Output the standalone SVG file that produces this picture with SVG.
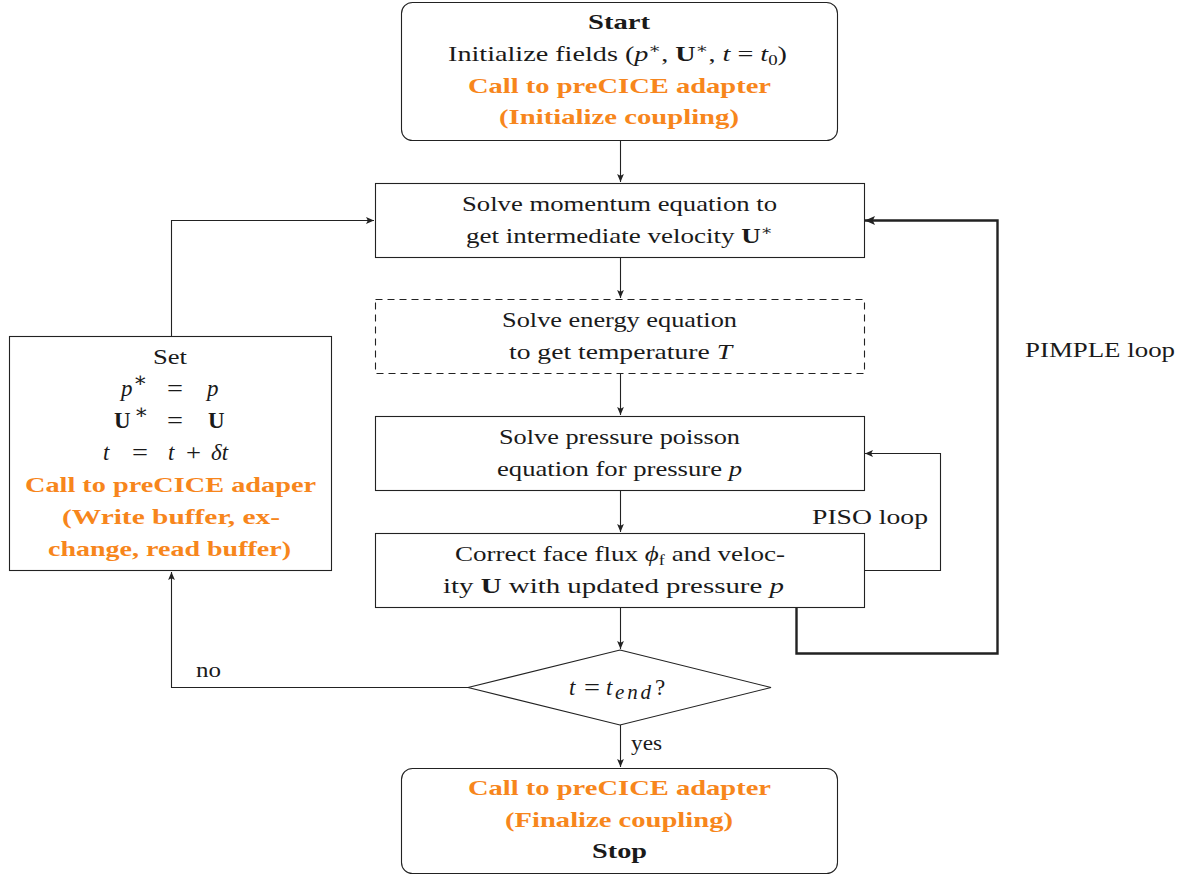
<svg xmlns="http://www.w3.org/2000/svg" width="1190" height="875" viewBox="0 0 1190 875">
<style>
text{font-family:"Liberation Serif","DejaVu Serif",serif;font-size:21px;fill:#1a1a1a}
.c{text-anchor:middle}
.o{fill:#f7861c}
.b{font-weight:bold}
.i{font-style:italic}
.m{font-size:23px}
.box{fill:#fff;stroke:#222;stroke-width:1.1}
.dash{stroke-dasharray:7,5}
.ln{fill:none;stroke:#222;stroke-width:1.1}
.thick{fill:none;stroke:#222;stroke-width:2.4}
</style>
<defs>
<marker id="ah" markerWidth="10" markerHeight="8" refX="8" refY="4" orient="auto" markerUnits="userSpaceOnUse">
<path d="M0,0.6 L8,4 L0,7.4 L1.8,4 Z" fill="#222"/>
</marker>
<marker id="ahb" markerWidth="12" markerHeight="10" refX="10" refY="5" orient="auto" markerUnits="userSpaceOnUse">
<path d="M0,0.5 L10,5 L0,9.5 L2.2,5 Z" fill="#222"/>
</marker>
</defs>

<g id="connectors">
<path class="ln" d="M620.5 141 V182" marker-end="url(#ah)"/>
<path class="ln" d="M620.5 257 V298" marker-end="url(#ah)"/>
<path class="ln" d="M620.5 373 V415" marker-end="url(#ah)"/>
<path class="ln" d="M620.5 490 V532" marker-end="url(#ah)"/>
<path class="ln" d="M620.5 607 V649" marker-end="url(#ah)"/>
<path class="ln" d="M620.5 725 V767" marker-end="url(#ah)"/>
<path class="ln" d="M468 687.5 H171.5 V572" marker-end="url(#ah)"/>
<path class="ln" d="M171.5 336 V220.5 H374" marker-end="url(#ah)"/>
<path class="ln" d="M864 570.5 H940.5 V453.5 H865" marker-end="url(#ah)"/>
<path class="thick" d="M796.5 607 V653.5 H997.5 V220.5 H865" marker-end="url(#ahb)"/>
<text x="208.5" y="677" class="c" textLength="25" lengthAdjust="spacingAndGlyphs">no</text>
<text x="646.5" y="750" class="c" textLength="31" lengthAdjust="spacingAndGlyphs">yes</text>
<text x="870" y="524" class="c" textLength="116" lengthAdjust="spacingAndGlyphs">PISO loop</text>
<text x="1100" y="357" class="c" textLength="150" lengthAdjust="spacingAndGlyphs">PIMPLE loop</text>
</g>

<g id="start">
<rect class="box" x="401.5" y="2.5" width="436" height="138" rx="11"/>
<text x="619" y="29" class="c b" textLength="62" lengthAdjust="spacingAndGlyphs">Start</text>
<text x="617.5" y="61" class="c" textLength="339" lengthAdjust="spacingAndGlyphs">Initialize fields (<tspan class="i">p</tspan><tspan dy="-8" font-size="14">∗</tspan><tspan dy="8">, </tspan><tspan class="b">U</tspan><tspan dy="-8" font-size="14">∗</tspan><tspan dy="8">, </tspan><tspan class="i">t</tspan> = <tspan class="i">t</tspan><tspan dy="4" font-size="14">0</tspan><tspan dy="-4">)</tspan></text>
<text x="619.5" y="93" class="c b o" textLength="303" lengthAdjust="spacingAndGlyphs">Call to preCICE adapter</text>
<text x="619" y="124" class="c b o" textLength="240" lengthAdjust="spacingAndGlyphs">(Initialize coupling)</text>
</g>

<g id="momentum">
<rect class="box" x="375.5" y="183.5" width="489" height="74"/>
<text x="619.5" y="211" class="c" textLength="315" lengthAdjust="spacingAndGlyphs">Solve momentum equation to</text>
<text x="619.5" y="243" class="c" textLength="307" lengthAdjust="spacingAndGlyphs">get intermediate velocity <tspan class="b">U</tspan><tspan dy="-8" font-size="14">∗</tspan></text>
</g>

<g id="energy">
<rect class="box dash" x="375.5" y="299.5" width="489" height="74"/>
<text x="619.5" y="327" class="c" textLength="235" lengthAdjust="spacingAndGlyphs">Solve energy equation</text>
<text x="620.5" y="359" class="c" textLength="223" lengthAdjust="spacingAndGlyphs">to get temperature <tspan class="i">T</tspan></text>
</g>

<g id="pressure">
<rect class="box" x="375.5" y="416.5" width="489" height="74"/>
<text x="619.5" y="444" class="c" textLength="241" lengthAdjust="spacingAndGlyphs">Solve pressure poisson</text>
<text x="619.5" y="476" class="c" textLength="245" lengthAdjust="spacingAndGlyphs">equation for pressure <tspan class="i">p</tspan></text>
</g>

<g id="correct">
<rect class="box" x="375.5" y="533.5" width="489" height="74"/>
<text x="620" y="561" class="c" textLength="330" lengthAdjust="spacingAndGlyphs">Correct face flux <tspan class="i">ϕ</tspan><tspan dy="4" font-size="14">f</tspan><tspan dy="-4"> and veloc-</tspan></text>
<text x="613.5" y="593" class="c" textLength="341" lengthAdjust="spacingAndGlyphs">ity <tspan class="b">U</tspan> with updated pressure <tspan class="i">p</tspan></text>
</g>

<g id="decision">
<polygon class="box" points="620,650 771,687.5 620,725 468,687.5"/>
<text x="569" y="695" class="i m">t</text>
<text x="584" y="695" class="m" textLength="16" lengthAdjust="spacingAndGlyphs">=</text>
<text x="606" y="695" class="i m">t</text>
<text x="615" y="699" class="i" font-size="15" textLength="36" lengthAdjust="spacing">end</text>
<text x="655" y="695" class="m">?</text>
</g>

<g id="update">
<rect class="box" x="9.5" y="336.5" width="322" height="234"/>
<text x="170" y="364" class="c" textLength="34" lengthAdjust="spacingAndGlyphs">Set</text>
<text x="121" y="396" class="i m">p</text><text x="133" y="387" font-size="11">∗</text>
<text x="167" y="396" class="m" textLength="16" lengthAdjust="spacingAndGlyphs">=</text>
<text x="207" y="396" class="i m">p</text>
<text x="114" y="428" class="b m">U</text><text x="134" y="419" font-size="11">∗</text>
<text x="167" y="428" class="m" textLength="16" lengthAdjust="spacingAndGlyphs">=</text>
<text x="208" y="428" class="b m">U</text>
<text x="103" y="460" class="i m">t</text>
<text x="132" y="460" class="m" textLength="16" lengthAdjust="spacingAndGlyphs">=</text>
<text x="168" y="460" class="i m">t</text>
<text x="186" y="460" class="m" textLength="15" lengthAdjust="spacingAndGlyphs">+</text>
<text x="211" y="460" class="i m">δt</text>
<text x="170.5" y="492" class="c b o" textLength="291" lengthAdjust="spacingAndGlyphs">Call to preCICE adaper</text>
<text x="171" y="524" class="c b o" textLength="218" lengthAdjust="spacingAndGlyphs">(Write buffer, ex-</text>
<text x="169.5" y="556" class="c b o" textLength="243" lengthAdjust="spacingAndGlyphs">change, read buffer)</text>
</g>

<g id="stop">
<rect class="box" x="401.5" y="768.5" width="436" height="105" rx="11"/>
<text x="619.5" y="795" class="c b o" textLength="303" lengthAdjust="spacingAndGlyphs">Call to preCICE adapter</text>
<text x="619" y="827" class="c b o" textLength="228" lengthAdjust="spacingAndGlyphs">(Finalize coupling)</text>
<text x="619.5" y="858" class="c b" textLength="55" lengthAdjust="spacingAndGlyphs">Stop</text>
</g>
</svg>
